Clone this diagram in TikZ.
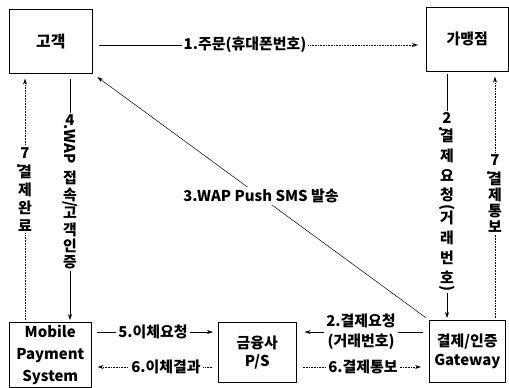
\documentclass[tikz,border=0pt]{standalone}
\usepackage{fontspec}
\usepackage{graphicx}
\setmainfont{Noto Sans CJK KR}
\usetikzlibrary{arrows.meta}
\newcommand\rdot{\makebox[0pt][r]{\rotatebox{-90}{.}\kern4pt}}
\newcommand\rt[1]{\rotatebox{-90}{#1}}
\begin{document}
\begin{tikzpicture}[x=1bp,y=-1bp,
  font=\bfseries\fontsize{15}{17}\selectfont,
  box/.style={draw, line width=0.6pt, inner sep=0pt, anchor=north west, align=center},
  arr/.style={-{Stealth[length=6pt,width=4pt]}, line width=0.6pt},
  dotln/.style={densely dotted, line width=0.8pt},
  lbl/.style={fill=white, inner sep=2pt, align=center},
  vlbl/.style={fill=white, anchor=north, inner xsep=1pt, inner ysep=2pt, align=center}]
\useasboundingbox (0,0) rectangle (509,387);
% boxes
\node[box, minimum width=83bp, minimum height=64bp, font=\bfseries\fontsize{16}{18}\selectfont] (cust) at (9,9) {고객};
\node[box, minimum width=82bp, minimum height=64bp] (merch) at (426,7) {가맹점};
\node[box, minimum width=82bp, minimum height=65bp, font=\bfseries\fontsize{15}{22}\selectfont] (mps) at (9,322) {Mobile\\Payment\\System};
\node[box, minimum width=78bp, minimum height=60bp, font=\bfseries\fontsize{15}{18}\selectfont] (fin) at (218,322) {금융사\\P/S};
\node[box, minimum width=76bp, minimum height=62bp, font=\bfseries\fontsize{15}{20}\selectfont] (gw) at (429,320) {결제/인증\\Gateway};
% helper coordinates
\coordinate (xL7) at (25,0);
\coordinate (xL4) at (70,0);
\coordinate (xR2) at (447,0);
\coordinate (xR7) at (495,0);
\coordinate (y1) at (0,45);
\coordinate (yA) at (0,332);
\coordinate (yB) at (0,367);
% 1
\node[lbl] (l1) at (245,45) {1.주문(휴대폰번호)};
\draw[line width=0.6pt, shorten <=6pt] (cust.east |- y1) -- (l1.west);
\draw[arr, dotln] (l1.east) -- ([xshift=-8bp]merch.west |- y1);
% 3 diagonal
\draw[arr, line width=0.5pt, shorten <=4pt, shorten >=6pt] (gw.north west) -- (cust.south east);
\node[lbl] (l3) at (261,196) {3.WAP Push SMS 발송};
% left verticals
\draw[arr, dotln, shorten <=2pt, shorten >=5pt] (mps.north -| xL7) -- (cust.south -| xL7);
\draw[arr, shorten <=5pt, shorten >=2pt] (cust.south -| xL4) -- (mps.north -| xL4);
\node[vlbl, font=\bfseries\fontsize{15}{18}\selectfont] (l7a) at (25,145.3) {7\\[-13.3pt]\rdot\\[-3.3pt]결\\제\\완\\료};
\node[vlbl, font=\bfseries\fontsize{15}{16.5}\selectfont] (l4) at (70,112.3) {4\\[-17pt]\rt{.WAP}\\[6.5pt]접\\속\\[-14.7pt]\rt{/}\\[-1.5pt]고\\객\\인\\증};
% right verticals
\draw[arr, shorten <=2pt, shorten >=2pt] (merch.south -| xR2) -- (gw.north -| xR2);
\draw[arr, dotln, shorten <=2pt, shorten >=5pt] (gw.north -| xR7) -- (merch.south -| xR7);
\node[vlbl, font=\bfseries\fontsize{15}{20}\selectfont] (l2) at (447,110.3) {2\\[-17pt]\rdot\\[-5.3pt]결\\제\\요\\청\\[-16.2pt]\rt{(}\\[-1pt]거\\래\\번\\호\\[-18pt]\rt{)}};
\node[vlbl, font=\bfseries\fontsize{15}{16}\selectfont] (l7b) at (495,152.3) {7\\[-11.3pt]\rdot\\[-4.5pt]결\\제\\통\\보};
% bottom
\draw[arr, shorten <=5pt, shorten >=5pt] (mps.east |- yA) -- (fin.west |- yA);
\node[lbl] (l5) at (153,332) {5.이체요청};
\draw[arr, dotln, shorten <=6pt, shorten >=6pt] (fin.west |- yB) -- (mps.east |- yB);
\node[lbl] (l6a) at (166,367) {6.이체결과};
\draw[arr, shorten <=6pt, shorten >=8pt] (gw.west |- yA) -- (fin.east |- yA);
\node[lbl, font=\bfseries\fontsize{15}{20}\selectfont] (l2b) at (361,332) {2.결제요청\\(거래번호)};
\draw[arr, dotln, shorten <=6pt, shorten >=8pt] (fin.east |- yB) -- (gw.west |- yB);
\node[lbl] (l6b) at (363,367) {6.결제통보};
\end{tikzpicture}
\end{document}
